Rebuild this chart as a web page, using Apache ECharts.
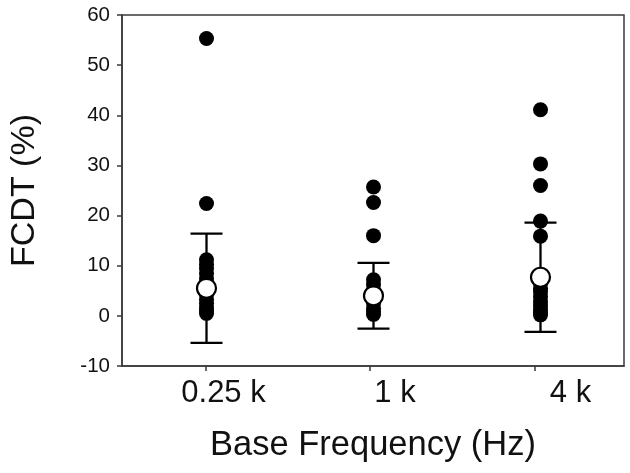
<!DOCTYPE html>
<html>
<head>
<meta charset="utf-8">
<script src="https://cdn.jsdelivr.net/npm/echarts@6/dist/echarts.min.js"></script>
<style>
html,body{margin:0;padding:0;background:#fff;}
#chart{width:630px;height:473px;}
</style>
</head>
<body>
<div id="chart"></div>
<script>
// ---- data ----
var categories = ['0.25 k', '1 k', '4 k'];
var indiv025 = [55.3, 22.4, 11.2, 10.3, 9.5, 8.5, 7.4, 6.5, 5.2, 4.3, 3.3, 2.5, 1.6, 1.0, 0.5];
var indiv1k = [25.7, 22.6, 16.0, 7.2, 6.2, 5.0, 3.5, 2.5, 1.5, 0.8, 0.3];
var indiv4k = [41.1, 30.3, 26.0, 18.9, 15.9, 6.5, 5.5, 4.8, 3.8, 2.8, 2.0, 1.2, 0.6, 0.2];
var means = [5.5, 4.0, 7.7];
var sds = [10.9, 6.55, 10.9];
var yTicks = [-10, 0, 10, 20, 30, 40, 50, 60];

// ---- build ----
var groups = [indiv025, indiv1k, indiv4k];
var dotData = [];
groups.forEach(function (g, i) {
  g.forEach(function (v) { dotData.push([i + 1, v]); });
});
var meanData = means.map(function (m, i) { return [i + 1, m]; });
var errData = means.map(function (m, i) { return [i + 1, m - sds[i], m + sds[i]]; });
var labelShift = [36, 50, 72];

var chart = echarts.init(document.getElementById('chart'), null, {renderer: 'canvas'});
var axisColor = '#3a3a3a';
var font = 'Arial, "Liberation Sans", sans-serif';

chart.setOption({
  animation: false,
  backgroundColor: '#fff',
  grid: {
    left: 119, right: 6, top: 15, bottom: 107,
    show: true, borderColor: axisColor, borderWidth: 1.5, containLabel: false
  },
  xAxis: [{
    type: 'value', min: 0.4924, max: 3.544,
    position: 'bottom',
    axisLine: {show: true, onZero: false, lineStyle: {color: axisColor, width: 1.5}},
    splitLine: {show: false},
    axisTick: {show: true, customValues: [1, 2, 3], length: 5, inside: false, lineStyle: {color: axisColor, width: 1.5}},
    axisLabel: {
      show: true, customValues: [1, 2, 3], margin: 12,
      fontFamily: font, fontSize: 31, color: '#111',
      formatter: function (v) {
        var i = Math.round(v) - 1;
        return '{l' + i + '|' + categories[i] + '}';
      },
      rich: {
        l0: {fontFamily: font, fontSize: 31, color: '#111', padding: [0, 0, 0, labelShift[0]]},
        l1: {fontFamily: font, fontSize: 31, color: '#111', padding: [0, 0, 0, labelShift[1]]},
        l2: {fontFamily: font, fontSize: 31, color: '#111', padding: [0, 0, 0, labelShift[2]]}
      }
    },
    name: 'Base Frequency (Hz)',
    nameLocation: 'middle', nameGap: 62,
    nameTextStyle: {fontFamily: font, fontSize: 34.5, color: '#111'}
  }, {
    type: 'value', min: 0.494, max: 3.5, show: false, position: 'bottom'
  }],
  yAxis: {
    type: 'value', min: -10, max: 60, interval: 10,
    axisLine: {show: true, onZero: false, lineStyle: {color: axisColor, width: 1.5}},
    splitLine: {show: false},
    axisTick: {show: true, length: 5, lineStyle: {color: axisColor, width: 1.5}},
    axisLabel: {
      margin: 12, fontFamily: font, fontSize: 20.5, color: '#111',
      formatter: function (v) { return yTicks.indexOf(v) >= 0 ? String(v) : ''; }
    },
    name: 'FCDT (%)',
    nameLocation: 'middle', nameGap: 80, nameRotate: 90,
    nameTextStyle: {fontFamily: font, fontSize: 34, color: '#111'}
  },
  series: [{
    type: 'scatter', xAxisIndex: 1, data: dotData,
    symbol: 'circle', symbolSize: 15,
    itemStyle: {color: '#000', opacity: 1}, z: 2
  }, {
    type: 'custom', xAxisIndex: 1, data: errData, z: 3,
    renderItem: function (params, api) {
      var x = api.value(0);
      var lo = api.coord([x, api.value(1)]);
      var hi = api.coord([x, api.value(2)]);
      var hw = 16;
      var st = {stroke: '#000', lineWidth: 2.3};
      return {type: 'group', children: [
        {type: 'line', shape: {x1: lo[0], y1: lo[1], x2: hi[0], y2: hi[1]}, style: st},
        {type: 'line', shape: {x1: lo[0] - hw, y1: lo[1], x2: lo[0] + hw, y2: lo[1]}, style: st},
        {type: 'line', shape: {x1: hi[0] - hw, y1: hi[1], x2: hi[0] + hw, y2: hi[1]}, style: st}
      ]};
    }
  }, {
    type: 'scatter', xAxisIndex: 1, data: meanData,
    symbol: 'circle', symbolSize: 19, z: 4,
    itemStyle: {color: '#fff', borderColor: '#000', borderWidth: 2.2, opacity: 1}
  }]
});
</script>
</body>
</html>
